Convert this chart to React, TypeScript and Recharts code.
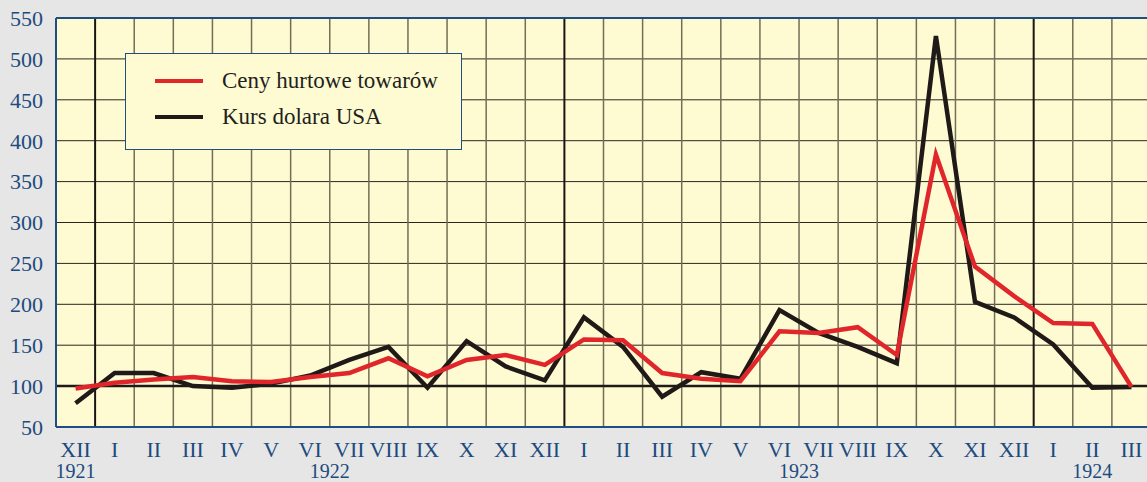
import React from "react";
import { LineChart, Line, XAxis, YAxis, CartesianGrid, ReferenceLine, Legend } from "recharts";

// months from XII 1921 to III 1924
const months = [
  "XII", "I", "II", "III", "IV", "V", "VI", "VII", "VIII", "IX", "X", "XI", "XII",
  "I", "II", "III", "IV", "V", "VI", "VII", "VIII", "IX", "X", "XI", "XII",
  "I", "II", "III",
];
const yearLabels = [
  "1921", "", "", "", "", "", "", "1922", "", "", "", "", "",
  "", "", "", "", "", "", "1923", "", "", "", "", "",
  "", "1924", "",
];
const wholesalePrices = [
  97, 104, 108, 111, 106, 105, 111, 116, 134, 112, 132, 138, 126,
  157, 156, 116, 109, 106, 167, 165, 172, 138, 383, 246, 210,
  177, 176, 99,
];
const dollarRate = [
  79, 116, 116, 100, 98, 103, 113, 132, 148, 98, 155, 124, 107,
  184, 148, 87, 117, 109, 193, 165, 148, 128, 528, 203, 184,
  151, 98, 99,
];
const yTicks = [50, 100, 150, 200, 250, 300, 350, 400, 450, 500, 550];

const series = [
  { key: "wholesale", name: "Ceny hurtowe towarów", color: "#e0262a" },
  { key: "dollar", name: "Kurs dolara USA", color: "#1f1a17" },
];

const data = months.map((m, i) => ({
  idx: i,
  month: m,
  wholesale: wholesalePrices[i],
  dollar: dollarRate[i],
}));

const SERIF = '"Liberation Serif", "Times New Roman", serif';
const BLUE = "#1c4b7e";
const PAGE_BG = "#e6e6e6";
const PLOT_BG = "#fefbd3";

const W = 1151;
const H = 482;
const Y_W = 56;
const BAND = (W - Y_W) / months.length;

// month label plus year underneath; mid-year labels sit on the VI/VII line
const MonthTick = (props: any) => {
  const { x, y, payload } = props;
  const i = payload.value as number;
  const year = yearLabels[i];
  const shift = months[i] === "VII" ? -BAND / 2 : 0;
  return (
    <g>
      <text x={x} y={y + 30} textAnchor="middle" fill={BLUE} fontSize={22} fontFamily={SERIF}>
        {months[i]}
      </text>
      {year ? (
        <text x={x + shift} y={y + 51} textAnchor="middle" fill={BLUE} fontSize={20} fontFamily={SERIF}>
          {year}
        </text>
      ) : null}
    </g>
  );
};

const LegendBox = () => (
  <div
    style={{
      width: 337,
      height: 97,
      boxSizing: "border-box",
      border: "1.5px solid #1f4f80",
      background: PLOT_BG,
      position: "relative",
      fontFamily: SERIF,
    }}
  >
    {series.map((s, k) => (
      <div
        key={s.key}
        style={{
          position: "absolute",
          left: 29,
          top: 13 + k * 36,
          height: 28,
          display: "flex",
          alignItems: "center",
          whiteSpace: "nowrap",
        }}
      >
        <span style={{ display: "inline-block", width: 48, height: 4, background: s.color }} />
        <span style={{ marginLeft: 19, fontSize: 23, color: "#231f20" }}>{s.name}</span>
      </div>
    ))}
  </div>
);

// month boundaries (thicker where a new year starts)
const boundaries = months.slice(1).map((m, k) => ({ x: k + 0.5, newYear: m === "I" }));

export default function App() {
  return (
    <div
      style={{
        position: "absolute",
        left: 0,
        top: 0,
        width: 1147,
        height: H,
        overflow: "hidden",
        background: PAGE_BG,
      }}
    >
      <LineChart width={W} height={H} data={data} margin={{ top: 18, right: 0, bottom: 0, left: 0 }}>
        <CartesianGrid vertical={false} fill={PLOT_BG} stroke="#2b2520" strokeWidth={1} />
        {boundaries.map((b) => (
          <ReferenceLine
            key={b.x}
            x={b.x}
            stroke={b.newYear ? "#1a1614" : "#756d56"}
            strokeWidth={b.newYear ? 2 : 1.5}
          />
        ))}
        <ReferenceLine y={100} stroke="#1f1a17" strokeWidth={2.5} />
        <ReferenceLine y={550} stroke="#1f4f80" strokeWidth={2} />
        <XAxis
          dataKey="idx"
          type="number"
          domain={[-0.5, months.length - 0.5]}
          allowDataOverflow
          ticks={months.map((_, i) => i)}
          interval={0}
          height={55}
          tickLine={false}
          tickSize={0}
          tickMargin={0}
          axisLine={{ stroke: "#1f4f80", strokeWidth: 2 }}
          tick={<MonthTick />}
        />
        <YAxis
          domain={[50, 550]}
          ticks={yTicks}
          interval={0}
          width={Y_W}
          tickLine={false}
          tickMargin={7}
          axisLine={{ stroke: "#1f4f80", strokeWidth: 2 }}
          tick={{ fill: BLUE, fontSize: 22, fontFamily: SERIF }}
        />
        <Legend
          layout="vertical"
          align="center"
          verticalAlign="middle"
          wrapperStyle={{ position: "absolute", left: 125, top: 53, width: 337, height: 97 }}
          content={() => <LegendBox />}
        />
        {[...series].reverse().map((s) => (
          <Line
            key={s.key}
            type="linear"
            dataKey={s.key}
            name={s.name}
            stroke={s.color}
            strokeWidth={4.5}
            dot={false}
            activeDot={false}
            isAnimationActive={false}
          />
        ))}
      </LineChart>
    </div>
  );
}
